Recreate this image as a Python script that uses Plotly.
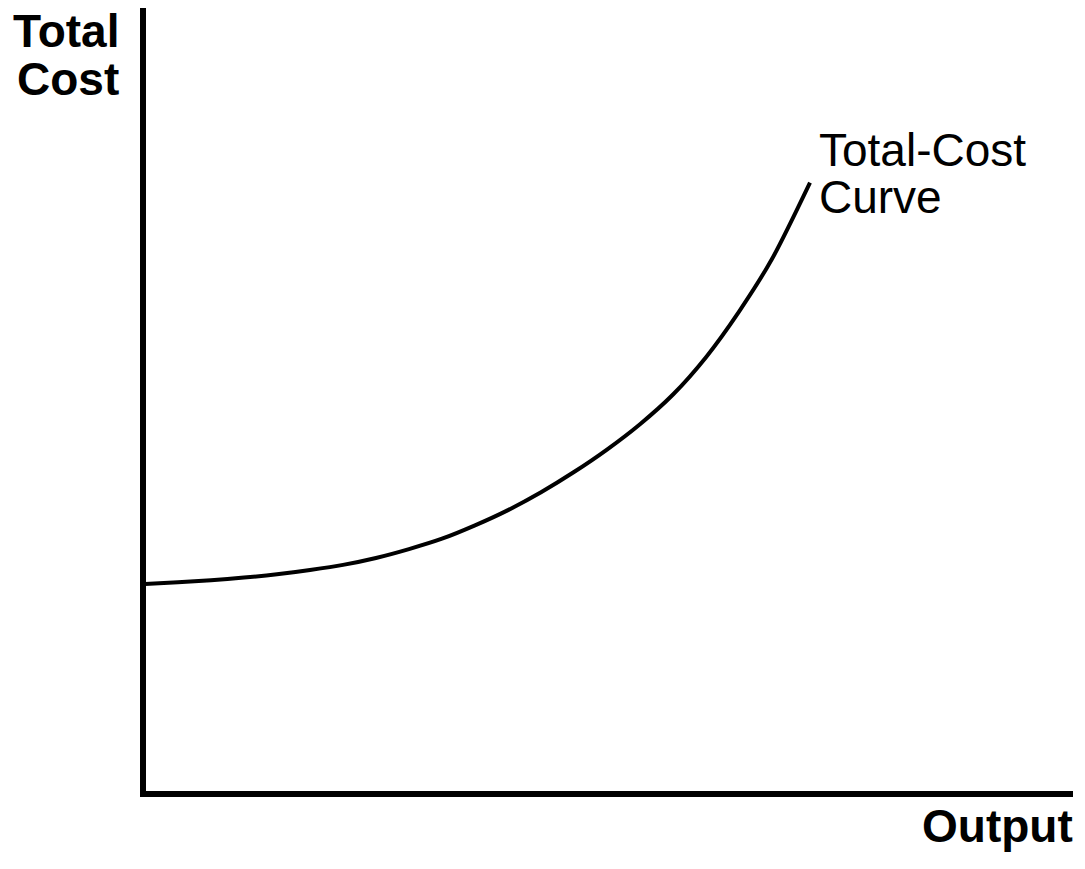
import plotly.graph_objects as go

# Data (arbitrary units)
output_units = [0.22, 3.76, 7.31, 10.86, 14.41, 17.96, 21.51, 25.05, 28.60, 32.15, 35.70,
                39.25, 42.80, 46.34, 49.89, 53.44, 56.99, 60.54, 64.09, 67.63, 71.72]
total_cost = [26.72, 26.93, 27.20, 27.53, 27.95, 28.50, 29.15, 30.03, 31.16, 32.48, 34.18,
              36.12, 38.39, 40.96, 43.82, 47.05, 50.83, 55.58, 61.38, 68.06, 77.78]

x_title = "Output"
y_title_lines = ["Total", "Cost"]
curve_label_lines = ["Total-Cost", "Curve"]

W, H = 1085, 869
L, R, T, B = 143, W - 1073, 8, H - 794

fig = go.Figure()
fig.add_trace(go.Scatter(
    x=output_units, y=total_cost, mode="lines",
    line=dict(color="black", width=4, shape="spline", smoothing=0.8),
    showlegend=False, hoverinfo="skip",
))

fig.update_layout(
    width=W, height=H,
    margin=dict(l=L, r=R, t=T, b=B, pad=0),
    paper_bgcolor="white", plot_bgcolor="white",
    xaxis=dict(range=[0, 100], visible=False, fixedrange=True),
    yaxis=dict(range=[0, 100], visible=False, fixedrange=True),
    shapes=[dict(type="path", xref="paper", yref="paper",
                 path="M 0,1.0 L 0,0 L 1,0",
                 line=dict(color="black", width=6))],
)

pw = W - L - R
ph = H - T - B


def px_x(p):
    return (p - L) / pw


def px_y(p):
    return (H - B - p) / ph


FONT = "Liberation Sans, Arial, sans-serif"


def label(text, x, y, xanchor, size, bold):
    t = "<b>" + text + "</b>" if bold else text
    fig.add_annotation(text=t, xref="paper", yref="paper",
                       x=px_x(x), y=px_y(y), xanchor=xanchor, yanchor="top",
                       align=xanchor, showarrow=False,
                       font=dict(family=FONT, size=size, color="black"))


label(y_title_lines[0], 121, 3, "right", 46, True)
label(y_title_lines[1], 121, 51, "right", 46, True)
label(x_title, 1075, 798, "right", 46, True)
label(curve_label_lines[0], 817, 122, "left", 46, False)
label(curve_label_lines[1], 817, 169, "left", 46, False)

fig.write_html("out.html",
               config={"displayModeBar": False, "staticPlot": True},
               post_script="document.body.style.margin='0';document.body.style.overflow='hidden';")
